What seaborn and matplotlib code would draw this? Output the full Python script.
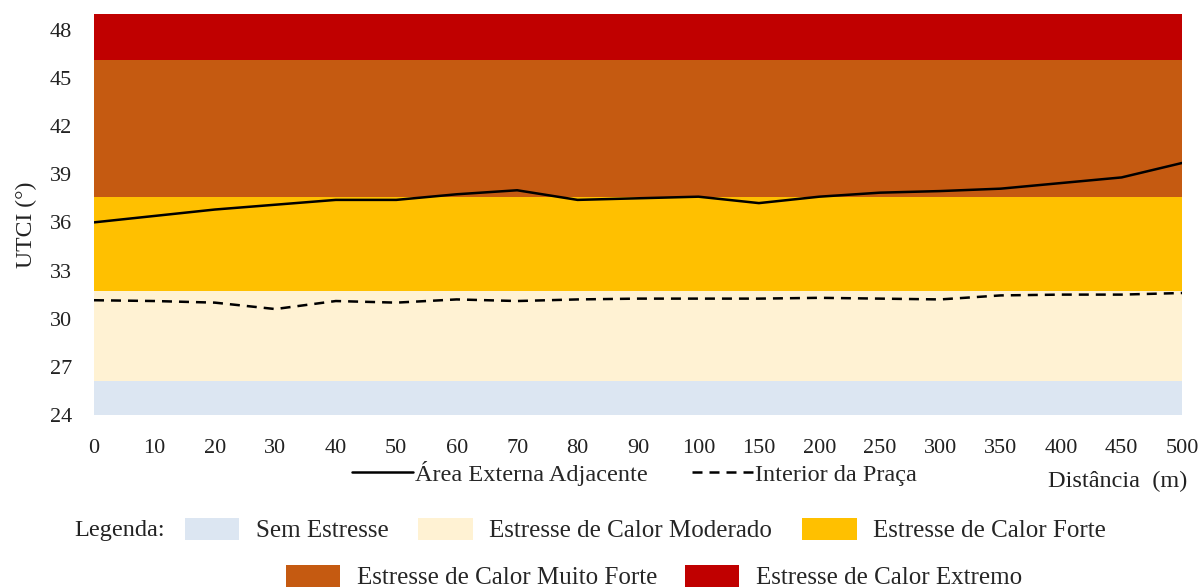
import numpy as np
import pandas as pd
import matplotlib
matplotlib.use("Agg")
import matplotlib.pyplot as plt
from matplotlib.patches import Patch
from matplotlib.lines import Line2D
import seaborn as sns

# distances (m) along the transect - plotted as evenly spaced categories
distancias = ["0", "10", "20", "30", "40", "50", "60", "70", "80", "90", "100",
              "150", "200", "250", "300", "350", "400", "450", "500"]
area_externa = [36.0, 36.4, 36.8, 37.1, 37.4, 37.4, 37.75, 38.0, 37.4, 37.5, 37.6,
                37.2, 37.6, 37.85, 37.95, 38.1, 38.45, 38.8, 39.7]
interior_praca = [31.15, 31.1, 31.0, 30.6, 31.1, 31.0, 31.2, 31.1, 31.2, 31.25, 31.25,
                  31.25, 31.3, 31.25, 31.2, 31.45, 31.5, 31.5, 31.6]

# UTCI stress bands (lower, upper) as drawn in the figure
faixas = ["Sem Estresse", "Estresse de Calor Moderado", "Estresse de Calor Forte",
          "Estresse de Calor Muito Forte", "Estresse de Calor Extremo"]
limites = [24, 26.1, 31.7, 37.6, 46.1, 49]
cores = ["#DCE6F2", "#FFF2D3", "#FFC000", "#C55A11", "#C00000"]

df = pd.DataFrame({"pos": np.arange(len(distancias)),
                   "externa": area_externa, "interior": interior_praca})

sns.set_theme(style="white")
plt.rcParams["font.family"] = ["Liberation Serif", "DejaVu Serif"]
txt = "#222222"

fig = plt.figure(figsize=(12.02, 5.87), dpi=100)
ax = fig.add_axes([0.0782, 0.293, 0.9052, 0.6837])

for i in range(len(faixas)):
    ax.axhspan(limites[i], limites[i + 1], color=cores[i], lw=0, zorder=0)

sns.lineplot(data=df, x="pos", y="externa", color="black", lw=1.8, ax=ax, zorder=3)
sns.lineplot(data=df, x="pos", y="interior", color="black", lw=1.8, ax=ax, zorder=3)
ax.lines[-1].set_dashes((4, 2.8))

ax.set_xlim(0, len(distancias) - 1)
ax.set_ylim(24, 49)
ax.set_yticks(np.arange(24, 49, 3))
ax.set_xticks(df["pos"])
ax.set_xticklabels(distancias)
ax.tick_params(axis="both", length=0, labelsize=16, colors=txt)
ax.tick_params(axis="x", pad=17)
ax.tick_params(axis="y", pad=16)
ax.set_xlabel("")
ax.set_ylabel("UTCI (°)", fontsize=17, color=txt, labelpad=9)
ax.yaxis.label.set_y(0.474)
for s in ax.spines.values():
    s.set_visible(False)

fig.text(0.9875, 0.179, "Distância  (m)", ha="right", va="center", fontsize=17.5, color=txt)

# line legend
lh = [Line2D([], [], color="black", lw=1.8),
      Line2D([], [], color="black", lw=1.8, dashes=(4, 2.8))]
fig.legend(lh, ["Área Externa Adjacente", "Interior da Praça"], ncol=2, frameon=False,
           loc="center", bbox_to_anchor=(0.528, 0.194), fontsize=17.5,
           handlelength=2.5, handletextpad=0.1, columnspacing=1.8)

# band legend, two rows
ph = [Patch(color=c, lw=0) for c in cores]
fig.text(0.062, 0.097, "Legenda:", ha="left", va="center", fontsize=17.5, color=txt)
fig.legend(ph[:3], faixas[:3], ncol=3, frameon=False, loc="center",
           bbox_to_anchor=(0.537, 0.097), fontsize=18, handlelength=2.17,
           handleheight=0.97, handletextpad=0.67, columnspacing=1.2)
fig.legend(ph[3:], faixas[3:], ncol=2, frameon=False, loc="center",
           bbox_to_anchor=(0.544, 0.017), fontsize=18, handlelength=2.17,
           handleheight=0.97, handletextpad=0.67, columnspacing=1.1)

fig.savefig("out.png", dpi=100)
